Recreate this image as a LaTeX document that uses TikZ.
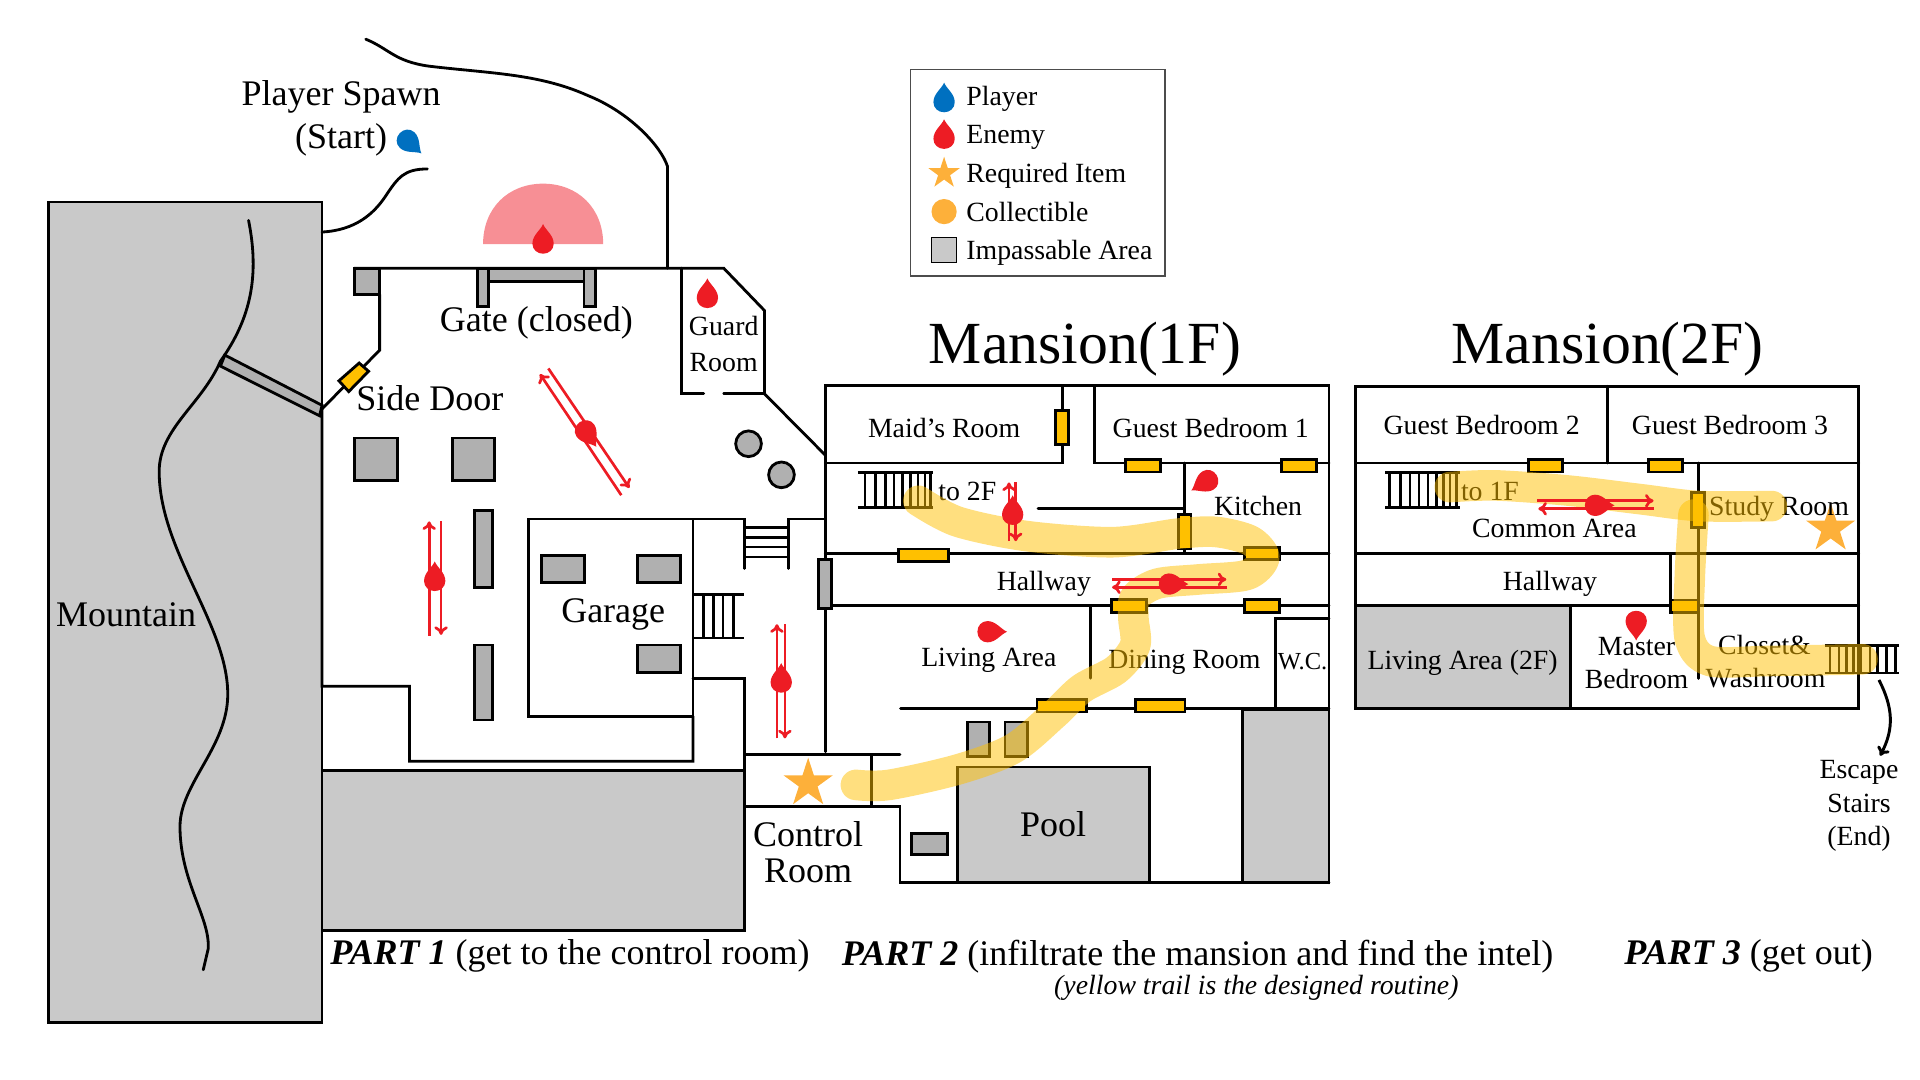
\documentclass[tikz,border=0pt]{standalone}
\usepackage{fontspec}
\setmainfont{Liberation Serif}
\usetikzlibrary{shapes.geometric,arrows.meta}
\definecolor{blockgray}{HTML}{B0B0B0}
\definecolor{impassgray}{HTML}{C9C9C9}
\definecolor{doorgold}{HTML}{FFC000}
\definecolor{enemyred}{HTML}{ED1C24}
\definecolor{playerblue}{HTML}{0070C0}
\definecolor{itemorange}{HTML}{FDB03A}
\definecolor{visionpink}{HTML}{F78F95}
\tikzset{%
wall/.style={line width=2.3pt,line cap=round},
stair/.style={line width=2.2pt},
door/.style={draw,line width=2.3pt,fill=doorgold},
block/.style={draw,line width=2.3pt,fill=blockgray},
impass/.style={draw,line width=2.3pt,fill=impassgray},
patrol/.style={enemyred,line width=2.2pt,-{To[length=7pt,width=11pt]}},
trail/.style={doorgold,opacity=0.5,line width=25pt,line cap=round,line join=round},
lab/.style={inner sep=0pt,font=\fontsize{22.7}{24}\selectfont},
biglab/.style={inner sep=0pt,font=\fontsize{29.4}{30}\selectfont},
titlelab/.style={inner sep=0pt,font=\fontsize{48.8}{50}\selectfont},
itemstar/.style={star,star points=5,star point ratio=2.618,fill=itemorange,inner sep=0pt,minimum size=#1},
drop/.pic={\fill[#1] (0,-15.5) .. controls (2,-10.5) and (8.7,-6.5) .. (8.7,0.5)
  .. controls (8.7,5.3) and (4.8,8.7) .. (0,8.7) .. controls (-4.8,8.7) and (-8.7,5.3) .. (-8.7,0.5)
  .. controls (-8.7,-6.5) and (-2,-10.5) .. cycle;}
}
\begin{document}
\begin{tikzpicture}[x=1pt,y=-1pt]
\useasboundingbox (0,0) rectangle (1568,882);

% mountain and outside
\draw[impass] (39.4,165) rectangle (263,835);
\draw[wall] (203,180) .. controls (212,225) and (205,260) .. (180,295) .. controls (165,330) and (130,350) .. (130,385)
  .. controls (130,450) and (186,510) .. (186,567) .. controls (186,610) and (147,640) .. (147,675)
  .. controls (147,720) and (172,750) .. (170,775) -- (166,792);
\draw[block] (183.6,290) -- (263,331) -- (261,339.6) -- (180,299) -- cycle;
\draw[impass] (263,629) rectangle (608.3,759.6);
\draw[wall] (298.7,32) .. controls (318,40) and (322,50) .. (350,54) .. controls (400,60) and (440,60) .. (480,78)
  .. controls (515,92) and (540,120) .. (545,135.6);
\draw[wall] (263,189.5) .. controls (290,188) and (305,175) .. (315,160) .. controls (325,145) and (330,138) .. (349,138);
\fill[visionpink] (394.5,199.4) .. controls (394.5,170) and (415,150) .. (443.5,150) .. controls (472,150) and (492.6,170) .. (492.6,199.4) -- cycle;

% courtyard walls
\draw[wall] (545,135.6) -- (545,219);
\draw[wall] (289.5,219) -- (591,219) -- (624.3,253.6) -- (624.3,321.6) -- (674,371.7);
\draw[block] (289.5,219) rectangle (310,240.5);
\draw[wall] (310,240.5) -- (310,286) -- (263,334) -- (263,560.5) -- (334.4,560.5) -- (334.4,621.7) -- (566,621.7) -- (566,585);
\draw[block] (390,219) rectangle (399,250);
\draw[block] (477,219) rectangle (486,250);
\draw[block] (399,219) rectangle (477,230);
\draw[door] (293.3,296.5) -- (301,303.2) -- (284.8,319.8) -- (276.8,311) -- cycle;
\draw[wall] (556.7,219) -- (556.7,321.6) -- (574.6,321.6);
\draw[wall] (591,321.6) -- (624.3,321.6);
\draw[block] (289.7,357.7) rectangle (324.7,392.7);
\draw[block] (369.5,357.7) rectangle (404,392.7);
\draw[block] (611.3,362.4) circle (10.5);
\draw[block] (638.2,387.8) circle (10.5);
\draw[block] (387.3,417) rectangle (402.4,480);
\draw[block] (387.3,526.7) rectangle (402.4,588);

% garage
\draw[wall] (431.3,423.8) rectangle (566,585);
\draw[block] (442,453.5) rectangle (477.4,476);
\draw[block] (520.4,453.5) rectangle (556,476);
\draw[block] (520.4,526.7) rectangle (556,549.4);
\draw[wall] (566,423.8) -- (608.3,423.8) -- (608.3,464.3);
\draw[wall] (643.8,464.3) -- (643.8,423.8) -- (674,423.8);
\foreach \sy in {431,439,446.8,455} \draw[stair] (608.3,\sy) -- (643.8,\sy);
\draw[stair] (566,485.6) -- (607.6,485.6);
\draw[stair] (566,521.1) -- (607.6,521.1);
\foreach \sx in {574.3,582.6,590.5,599} \draw[stair] (\sx,485.6) -- (\sx,521.1);
\draw[wall] (566,554) -- (608.3,554) -- (608.3,658.5);

% control room
\draw[wall] (608.3,616.5) -- (735,616.5);
\draw[wall] (608.3,658.5) -- (735,658.5) -- (735,721) -- (1085.3,721);
\draw[wall] (711.8,616.5) -- (711.8,658.5);
\node[itemstar=42pt] (controlstar) at (660,639.8) {};

% mansion 1F
\draw[wall] (674,613.8) -- (674,315) -- (1085.3,315) -- (1085.3,721);
\draw[wall] (674,378.1) -- (867.4,378.1) -- (867.4,315);
\draw[wall] (893.8,315) -- (893.8,378.1) -- (1085.3,378.1);
\draw[wall] (967,378.1) -- (967,452);
\draw[wall] (847.7,415.5) -- (967,415.5);
\draw[wall] (674,452) -- (1085.3,452);
\draw[wall] (674,494.8) -- (1085.3,494.8);
\draw[wall] (890.5,494.8) -- (890.5,553.9);
\draw[wall] (1085.3,505.2) -- (1041.5,505.2) -- (1041.5,578.6);
\draw[wall] (735.5,578.6) -- (1085.3,578.6);
\draw[block] (668.5,457) rectangle (678.8,497);
\draw[door] (862,335) rectangle (872.7,363.2);
\draw[door] (919.4,375.3) rectangle (947.5,385.4);
\draw[door] (1046.5,375.3) rectangle (1075.2,385.4);
\draw[door] (962.2,420.3) rectangle (972.6,448.4);
\draw[door] (733.8,448.4) rectangle (774.3,458.6);
\draw[door] (1016.2,447) rectangle (1044.8,457.2);
\draw[door] (907.6,489.8) rectangle (936.3,500);
\draw[door] (1016.2,489.8) rectangle (1044.8,500);
\draw[door] (846.9,571) rectangle (887.6,581.4);
\draw[door] (927.3,571) rectangle (967.8,581.4);
\draw[block] (790,589.6) rectangle (808.3,618);
\draw[block] (820.7,589.6) rectangle (839,618);
\draw[block] (744.5,680.4) rectangle (773.7,697.9);
\draw[impass] (782.2,626.4) rectangle (938.8,721);
\draw[impass] (1014.5,579.2) rectangle (1085.3,721);
\draw[stair] (700.6,386) -- (761.9,386);
\draw[stair] (700.6,414.7) -- (761.9,414.7);
\foreach \sx in {706.3,714.7,723.1,730.2,737.2,743.4,749.8,755.5,759.7} \draw[stair] (\sx,386) -- (\sx,414.7);

% mansion 2F
\draw[impass] (1107,494.8) rectangle (1282.7,578.6);
\draw[wall] (1107,315.4) rectangle (1518,578.6);
\draw[wall] (1312.7,315.4) -- (1312.7,378.1);
\draw[wall] (1107,378.1) -- (1518,378.1);
\draw[wall] (1107,452) -- (1518,452);
\draw[wall] (1107,494.8) -- (1518,494.8);
\draw[wall] (1387,378.1) -- (1387,554);
\draw[wall] (1364.4,452) -- (1364.4,494.8);
\draw[door] (1248,375.3) rectangle (1276.2,385.4);
\draw[door] (1346,375.3) rectangle (1374.2,385.4);
\draw[door] (1381.6,402) rectangle (1392.3,431);
\draw[door] (1364.4,490) rectangle (1387,500);
\node[itemstar=42pt] (studystar) at (1495,431.7) {};
\draw[stair] (1131.3,386) -- (1192.2,386);
\draw[stair] (1131.3,414.7) -- (1192.2,414.7);
\foreach \sx in {1134.6,1144,1151.5,1158.9,1166.3,1173.2,1179.1,1184.2,1189.2} \draw[stair] (\sx,386) -- (\sx,414.7);
\draw[stair] (1490,527.2) -- (1551,527.2);
\draw[stair] (1490,549.7) -- (1551,549.7);
\foreach \sx in {1494.4,1501.9,1507.8,1513.7,1519.7,1527.1,1533,1540.5,1548} \draw[stair] (\sx,527.2) -- (\sx,549.7);

% labels
\node[biglab,align=center] (spawn) at (278.5,79) {Player Spawn};
\node[biglab] (start) at (278.5,114) {(Start)};
\node[biglab] (gate) at (438,264) {Gate (closed)};
\node[biglab] (sidedoor) at (351,325) {Side Door};
\node[biglab] (mountain) at (103,502) {Mountain};
\node[biglab] (garage) at (500.8,502) {Garage};
\node[biglab] (control) at (660,681) {Control};
\node[biglab] (controlb) at (660,711.5) {Room};
\node[biglab] (pool) at (860,673.3) {Pool};
\node[lab] (guard) at (591,266) {Guard};
\node[lab] (guardb) at (591,296) {Room};
\node[titlelab] (firstfloor) at (886,285) {Mansion(1F)};
\node[titlelab] (secondfloor) at (1313,285) {Mansion(2F)};
\node[lab] (maid) at (771,349.4) {Maid’s Room};
\node[lab] (guestone) at (988.8,349.4) {Guest Bedroom 1};
\node[lab] (uptwo) at (790,401) {to 2F};
\node[lab] (kitchen) at (1027.4,413.3) {Kitchen};
\node[lab] (hallone) at (852.5,477) {Hallway};
\node[lab] (livingone) at (807.5,539) {Living Area};
\node[lab] (dining) at (967.2,541) {Dining Room};
\node[lab,font=\fontsize{20}{22}\selectfont] (wc) at (1063.7,540) {W.C.};
\node[lab] (guesttwo) at (1210,347.2) {Guest Bedroom 2};
\node[lab] (guestthree) at (1412.8,347.2) {Guest Bedroom 3};
\node[lab] (downone) at (1216.8,401.2) {to 1F};
\node[lab] (common) at (1269.4,431.6) {Common Area};
\node[lab] (study) at (1452.9,415.2) {Study Room};
\node[lab] (halltwo) at (1265.8,477) {Hallway};
\node[lab] (livingtwo) at (1194.5,541) {Living Area (2F)};
\node[lab] (master) at (1336.5,527.7) {Master};
\node[lab] (masterb) at (1336.5,554.5) {Bedroom};
\node[lab] (closet) at (1441,526.6) {Closet\&};
\node[lab] (closetb) at (1441.9,553.9) {Washroom};
\node[lab] (escape) at (1518.2,631) {Escape};
\node[lab] (escapeb) at (1518.2,656) {Stairs};
\node[lab] (escapec) at (1518.2,685) {(End)};
\node[biglab] (partone) at (465.4,781) {\textbf{\textit{PART 1}} (get to the control room)};
\node[biglab] (parttwo) at (978,781) {\textbf{\textit{PART 2}} (infiltrate the mansion and find the intel)};
\node[biglab] (partthree) at (1428,781) {\textbf{\textit{PART 3}} (get out)};
\node[lab] (routine) at (1026,807) {\textit{(yellow trail is the designed routine)}};

% designed routine
\draw[trail] plot[smooth] coordinates {(750,409) (782,426) (838.4,437.8) (908.7,442.8) (962,435.8) (993,434.4) (1021,441.4) (1032.5,455.5) (1018.4,469.5) (979,473.2) (945.3,476.6) (927,487.8) (925.6,504.7) (927,527.2) (911.5,546.9) (883.4,562.3) (861,583.4) (827.2,611.5) (782.2,628.4) (726,641) (699,641)};
\draw[trail] plot[smooth] coordinates {(1184,397.8) (1221.3,396.4) (1280.6,400.6) (1340,407.7) (1387.5,413.3) (1447,413.3)};
\draw[trail] plot[smooth] coordinates {(1383,420.3) (1380,471) (1380,521.5) (1396.4,539.8) (1444,539.8) (1521,538.4)};

% enemies and player
\pic at (443.5,198.5) {drop=enemyred};
\pic at (577.7,242.9) {drop=enemyred};
\pic[rotate=-133] at (332.8,114.7) {drop=playerblue};
\draw[patrol] (507.4,404.4) -- (441,305.5);
\draw[patrol] (447.8,300.9) -- (514,398.5);
\pic[rotate=-146] at (478.3,352) {drop=enemyred};
\draw[patrol] (350.5,519.1) -- (350.5,425.8);
\draw[patrol] (360.2,425.8) -- (360.2,518.5);
\pic at (355,474) {drop=enemyred};
\draw[patrol] (634.5,603) -- (634.5,509.8);
\draw[patrol] (641,509.8) -- (641,603);
\pic at (638,557) {drop=enemyred};
\draw[patrol] (824,442) -- (824,394);
\draw[patrol] (829.5,394) -- (829.5,442);
\pic at (827,420) {drop=enemyred};
\pic[rotate=121] at (986.2,392.6) {drop=enemyred};
\draw[patrol] (908.2,473.2) -- (1001.5,473.2);
\draw[patrol] (1002.4,479.6) -- (908.2,479.6);
\pic[rotate=-90] at (955,477) {drop=enemyred};
\pic[rotate=-90] at (806.9,515.9) {drop=enemyred};
\draw[patrol] (1255.4,409) -- (1350.4,409);
\draw[patrol] (1350.4,415.5) -- (1256.3,415.5);
\pic[rotate=-90] at (1303,412.7) {drop=enemyred};
\pic[rotate=180] at (1336.2,507.5) {drop=enemyred};

% way out
\coordinate (stairfoot) at (1534.5,555.3);
\coordinate (escapetip) at (1535.4,617.2);
\draw[line width=2.4pt,-{To[length=7pt,width=11pt]}] (stairfoot) .. controls (1546,578) and (1547,595) .. (escapetip);

% legend
\draw[line width=1.2pt,draw=black!70] (743.7,56.6) rectangle (951.4,225.3);
\pic at (771,83) {drop=playerblue};
\pic at (771,112.9) {drop=enemyred};
\node[itemstar=27pt] (legendstar) at (771,141.5) {};
\fill[itemorange] (771,172.8) circle (10.3);
\draw[line width=1.2pt,fill=impassgray] (760.6,194) rectangle (781.3,214.5);
\node[lab,anchor=west] (legendplayer) at (789,81) {Player};
\node[lab,anchor=west] (legendenemy) at (789,112.5) {Enemy};
\node[lab,anchor=west] (legenditem) at (789,143.5) {Required Item};
\node[lab,anchor=west] (legendcollect) at (789,173.4) {Collectible};
\node[lab,anchor=west] (legendarea) at (789,206.5) {Impassable Area};
\end{tikzpicture}
\end{document}
